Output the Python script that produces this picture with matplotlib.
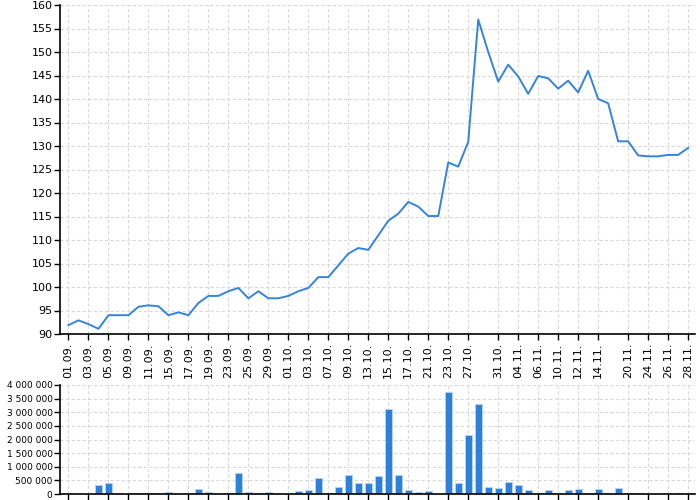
import matplotlib
matplotlib.use('Agg')
import matplotlib.pyplot as plt
from matplotlib.ticker import FuncFormatter, MultipleLocator

# trading days (dd.mm.)
dates = ['01.09.', '02.09.', '03.09.', '04.09.', '05.09.', '08.09.', '09.09.', '10.09.', '11.09.', '12.09.',
         '15.09.', '16.09.', '17.09.', '18.09.', '19.09.', '22.09.', '23.09.', '24.09.', '25.09.', '26.09.',
         '29.09.', '30.09.', '01.10.', '02.10.', '03.10.', '06.10.', '07.10.', '08.10.', '09.10.', '10.10.',
         '13.10.', '14.10.', '15.10.', '16.10.', '17.10.', '20.10.', '21.10.', '22.10.', '23.10.', '24.10.',
         '27.10.', '28.10.', '29.10.', '31.10.', '03.11.', '04.11.', '05.11.', '06.11.', '07.11.', '10.11.',
         '11.11.', '12.11.', '13.11.', '14.11.', '17.11.', '18.11.', '20.11.', '21.11.', '24.11.', '25.11.',
         '26.11.', '27.11.', '28.11.']

price = [91.9, 92.9, 92.1, 91.1, 94.0, 94.0, 94.0, 95.8, 96.1, 95.9,
         94.0, 94.6, 94.0, 96.6, 98.1, 98.1, 99.1, 99.8, 97.6, 99.1,
         97.6, 97.6, 98.1, 99.1, 99.8, 102.1, 102.1, 104.6, 107.1, 108.3,
         107.9, 111.0, 114.1, 115.6, 118.1, 117.1, 115.1, 115.1, 126.5, 125.6,
         130.9, 156.9, 150.0, 143.7, 147.3, 144.8, 141.1, 144.9, 144.4, 142.2,
         143.9, 141.4, 146.0, 140.0, 139.1, 131.0, 131.0, 128.0, 127.8, 127.8,
         128.1, 128.1, 129.6]

volume = [0, 0, 0, 330000, 400000, 20000, 0, 50000, 40000, 40000,
          70000, 0, 0, 180000, 70000, 0, 50000, 770000, 60000, 50000,
          60000, 0, 0, 100000, 150000, 590000, 30000, 270000, 680000, 420000,
          390000, 660000, 3120000, 700000, 160000, 70000, 110000, 0, 3740000, 420000,
          2170000, 3290000, 270000, 230000, 430000, 330000, 150000, 40000, 150000, 40000,
          150000, 200000, 50000, 180000, 30000, 230000, 40000, 30000, 10000, 0,
          10000, 30000, 30000]

tick_idx = list(range(0, 41, 2)) + [43, 45, 47, 49, 51, 53, 56, 58, 60, 62]

blue = '#3584db'
grid_kw = dict(color='#d9d9d9', linestyle=(0, (3, 2)), linewidth=0.8)

fig = plt.figure(figsize=(7, 5), dpi=100)
ax = fig.add_axes([0.085, 0.332, 0.908, 0.658])
ax2 = fig.add_axes([0.085, 0.012, 0.908, 0.218])

x = list(range(len(dates)))

ax.plot(x, price, color=blue, linewidth=1.4)
ax.set_ylim(90, 160)
ax.yaxis.set_major_locator(MultipleLocator(5))
ax.set_xticks(tick_idx)
ax.set_xticklabels([dates[i] for i in tick_idx], rotation=90, fontsize=8)

ax2.bar(x, volume, width=0.72, color='#2f80d8', edgecolor='#b4d0f2', linewidth=0.7)
ax2.set_ylim(0, 4000000)
ax2.yaxis.set_major_locator(MultipleLocator(500000))
ax2.yaxis.set_major_formatter(FuncFormatter(lambda v, p: '{:,}'.format(int(v)).replace(',', ' ')))
ax2.set_xticks(tick_idx)
ax2.set_xticklabels([])
ax2.tick_params(axis='x', length=0)

for a in (ax, ax2):
    a.set_xlim(-0.9, 62.7)
    a.grid(True, **grid_kw)
    a.set_axisbelow(True)
    for s in ('top', 'right'):
        a.spines[s].set_visible(False)
    a.spines['left'].set_linewidth(1.2)
    a.spines['bottom'].set_linewidth(1.2)
    a.tick_params(axis='y', labelsize=8, length=4, width=1, pad=1)
    a.tick_params(axis='x', length=4, width=1, pad=2)

# volume labels are smaller in the original
ax2.tick_params(axis='y', labelsize=6.5, pad=1)

fig.savefig('out.png', dpi=100)
